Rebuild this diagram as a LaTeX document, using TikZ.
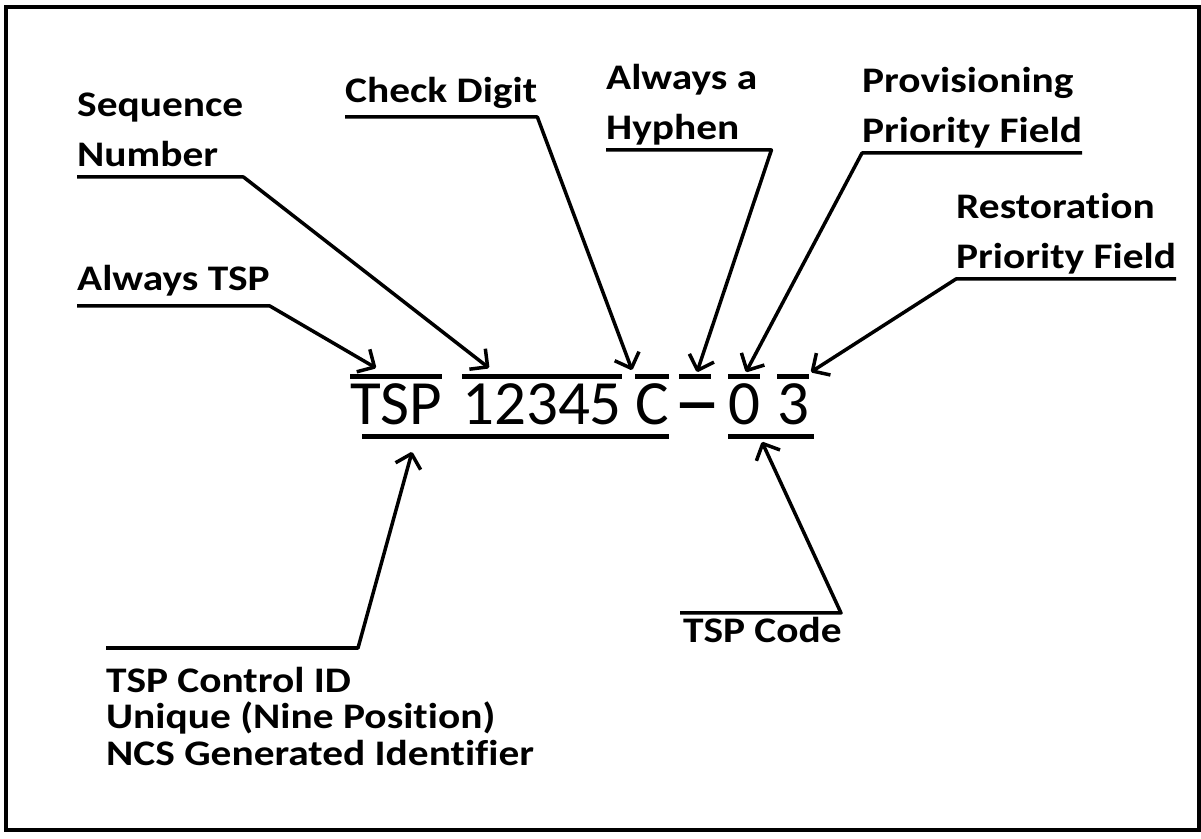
\documentclass[tikz,border=0pt]{standalone}
\usepackage{fontspec}
\setmainfont{Carlito}[Ligatures=NoCommon]
\newfontfamily\lblfont{Carlito}[FakeStretch=1.15, Ligatures=NoCommon]
\newfontfamily\dashfont{Carlito}[FakeStretch=1.4, FakeBold=2]
\usetikzlibrary{arrows.meta}

\tikzset{
  lbl/.style={font=\lblfont\bfseries\fontsize{36}{50}\selectfont, align=left,
    inner xsep=0pt, inner ysep=10pt, text depth=0pt, anchor=south west},
  lbllow/.style={lbl, font=\lblfont\bfseries\fontsize{36}{36.5}\selectfont, anchor=north west},
  str/.style={font=\fontsize{63}{70}\selectfont, inner sep=0pt,
    text height=48pt, text depth=11pt, anchor=base west},
  bar/.style={line width=5pt},
  lead/.style={line width=3.5pt, line join=round, -{Straight Barb[length=13pt,width=26pt,line join=round]}}
}

\begin{document}
\begin{tikzpicture}[x=1pt,y=1pt]
  \useasboundingbox (0,0) rectangle (1201,838);
  % Draw the frame.
  \draw[line width=3.5pt] (6,8) rectangle (1199,831);
  % Draw the number itself, one node for each field.
  \node[str] (tsp) at (350,413) {TSP};
  \node[str] (num) at (462,413) {12345};
  \node[str] (chk) at (635,413) {C};
  \node[str, font=\dashfont\fontsize{63}{70}\selectfont, anchor=base] (hyph) at (697,413) {−};
  \node[str] (zero) at (728,413) {0};
  \node[str] (three) at (777,413) {3};
  \foreach \n in {tsp,num,chk,zero,three}
    \draw[bar] (\n.north west) -- (\n.north east);
  \draw[bar] ([xshift=-18pt]hyph.north) -- ([xshift=14pt]hyph.north);
  \draw[bar] ([xshift=12pt]tsp.south west) -- (chk.south east);
  \draw[bar] (zero.south west) -- ([xshift=5pt]three.south east);
  % Where the arrows end.
  \coordinate (tiptsp) at (376,470);
  \coordinate (tipnum) at (489,470);
  \coordinate (tipchk) at (632,468);
  \coordinate (tiphyph) at (697,466);
  \coordinate (tipzero) at (746,466);
  \coordinate (tipthree) at (811,466);
  \coordinate (tipctl) at (412,386);
  \coordinate (tipcode) at (762,396);
  % Draw the labels above, and their leaders.
  \node[lbl, inner ysep=15pt] (lbltsp) at (77,532) {Always TSP};
  \draw[lead] (lbltsp.south west) -- (lbltsp.south east) -- (tiptsp);

  \node[lbl] (lblseq) at (77,661) {Sequence\\Number};
  \draw[lead] (lblseq.south west) -- (lblseq.south east) -- (tipnum);

  \node[lbl, inner ysep=14pt] (lblchk) at (345,721) {Check Digit};
  \draw[lead] (lblchk.south west) -- (lblchk.south east) -- (tipchk);

  \node[lbl] (lblhyph) at (606,688) {Always a\\Hyphen};
  \draw[lead] (lblhyph.south west) -- ([xshift=14pt]lblhyph.south east) -- (tiphyph);

  \node[lbl] (lblzero) at (862,685) {Provisioning\\Priority Field};
  \draw[lead] (lblzero.south east) -- (lblzero.south west) -- (tipzero);

  \node[lbl] (lblthree) at (956,559) {Restoration\\Priority Field};
  \draw[lead] (lblthree.south east) -- (lblthree.south west) -- (tipthree);
  % Draw the labels below.
  \node[lbllow, inner ysep=19pt] (lblctl) at (106,190) {TSP Control ID\\Unique (Nine Position)\\NCS Generated Identifier};
  \coordinate (bendctl) at (358,190);
  \draw[lead] (lblctl.north west) -- (bendctl) -- (tipctl);

  \node[lbllow, inner ysep=4pt] (lblcode) at (683,225) {TSP Code};
  \coordinate (bendcode) at (841,225);
  \draw[lead] ([xshift=-3pt]lblcode.north west) -- (bendcode) -- (tipcode);
\end{tikzpicture}
\end{document}
